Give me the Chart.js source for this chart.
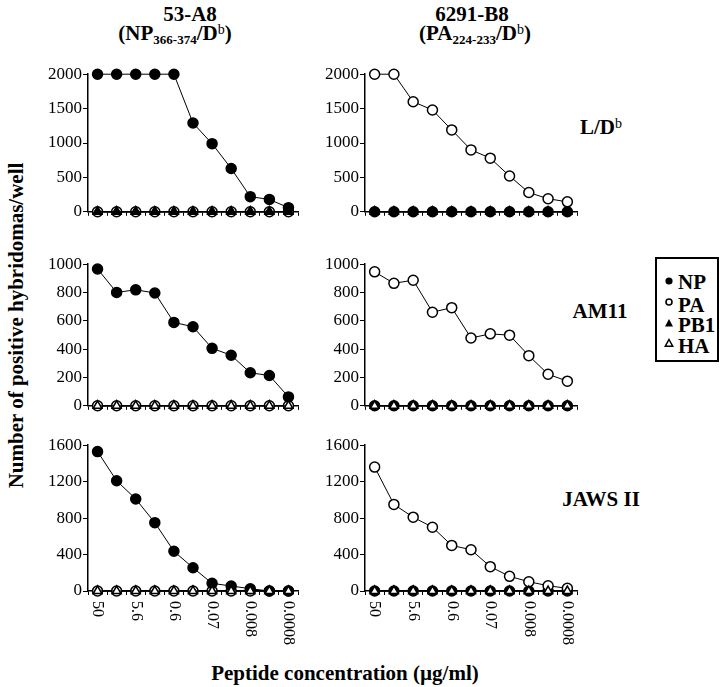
<!DOCTYPE html>
<html>
<head>
<meta charset="utf-8">
<script src="https://cdn.jsdelivr.net/npm/chart.js@4.4.1/dist/chart.umd.min.js"></script>
<style>
  html, body { margin: 0; padding: 0; background: #fff; }
  body { width: 720px; height: 687px; position: relative; overflow: hidden;
         font-family: "Liberation Serif", "Times New Roman", serif; color: #000; }
  canvas { position: absolute; }
  .lbl { position: absolute; font-weight: bold; font-size: 21px; line-height: 21px;
         white-space: nowrap; text-align: center; width: 200px; }
  .lbl sub { font-size: 13px; vertical-align: -4px; line-height: 0; }
  .lbl sup { font-size: 14px; vertical-align: 6px; line-height: 0; font-weight: normal; }
  #legend { position: absolute; left: 655px; top: 257px; width: 60px; height: 101px;
            border: 2px solid #000; }
  .leg { position: absolute; left: 21px; font-weight: bold; font-size: 21px; line-height: 21px; }
  .mk { position: absolute; left: 7px; }
</style>
</head>
<body>

<div class="lbl" style="left:90px; top:4px;">53-A8</div>
<div class="lbl" style="left:75px; top:23px;">(NP<sub>366-374</sub>/D<sup>b</sup>)</div>
<div class="lbl" style="left:372px; top:4px;">6291-B8</div>
<div class="lbl" style="left:375px; top:23px;">(PA<sub>224-233</sub>/D<sup>b</sup>)</div>

<div class="lbl" style="left:501px; top:117px;">L/D<sup>b</sup></div>
<div class="lbl" style="left:500px; top:301px;">AM11</div>
<div class="lbl" style="left:501px; top:489px;">JAWS II</div>

<div class="lbl" style="left:-184px; top:315px; width:400px; transform: rotate(-90deg);">Number of positive hybridomas/well</div>
<div class="lbl" style="left:195px; top:663px; width:300px;">Peptide concentration (µg/ml)</div>

<div id="legend">
  <svg class="mk" style="top:17px" width="10" height="10"><circle cx="5" cy="5" r="3.6" fill="#000"/></svg>
  <div class="leg" style="top:13px;">NP</div>
  <svg class="mk" style="top:38px" width="10" height="10"><circle cx="5" cy="5" r="3" fill="#fff" stroke="#000" stroke-width="1.6"/></svg>
  <div class="leg" style="top:36px;">PA</div>
  <svg class="mk" style="top:59px" width="10" height="10"><polygon points="5,1 9,8.5 1,8.5" fill="#000"/></svg>
  <div class="leg" style="top:56px;">PB1</div>
  <svg class="mk" style="top:79px" width="10" height="10"><polygon points="5,1.5 8.8,8.3 1.2,8.3" fill="#fff" stroke="#000" stroke-width="1.5"/></svg>
  <div class="leg" style="top:77px;">HA</div>
</div>

<canvas id="c1" width="270" height="160" style="left:38px; top:63px;"></canvas>
<canvas id="c2" width="272" height="160" style="left:315px; top:63px;"></canvas>
<canvas id="c3" width="270" height="164" style="left:38px; top:253px;"></canvas>
<canvas id="c4" width="272" height="164" style="left:315px; top:253px;"></canvas>
<canvas id="c5" width="270" height="227" style="left:38px; top:434px;"></canvas>
<canvas id="c6" width="272" height="227" style="left:315px; top:434px;"></canvas>

<script>
// peptide concentrations (ug/ml), only every other dilution is labelled
const xLabels = ['50', '', '5.6', '', '0.6', '', '0.07', '', '0.008', '', '0.0008'];

// y axis ranges per row
const yMax = [2000, 1000, 1600];
const yStep = [500, 200, 400];

const zeros = [0, 0, 0, 0, 0, 0, 0, 0, 0, 0, 0];

// L/Db
const npLD = [2000, 2000, 2000, 2000, 2000, 1290, 990, 630, 220, 180, 60];
const paLD = [2000, 2000, 1600, 1480, 1190, 900, 780, 520, 280, 190, 145];
// AM11
const npAM11 = [966, 801, 819, 797, 589, 558, 406, 357, 233, 214, 63];
const paAM11 = [946, 865, 887, 661, 693, 479, 508, 499, 354, 223, 174];
// JAWS II
const npJAWS = [1530, 1210, 1010, 750, 436, 255, 84, 55, 25, 0, 0];
const paJAWS = [1360, 950, 810, 700, 500, 453, 267, 161, 102, 58, 29];

const markers = {
    NP:  { pointStyle: 'circle',   fill: '#000' },
    PA:  { pointStyle: 'circle',   fill: '#fff' },
    PB1: { pointStyle: 'triangle', fill: '#000' },
    HA:  { pointStyle: 'triangle', fill: '#fff' }
};

// rotated (top-to-bottom) tick labels under the bottom row
const rotatedLabels = {
    id: 'rotatedLabels',
    afterDraw(chart, args, opts) {
        if (!opts.show) return;
        const xs = chart.scales.x;
        const ctx = chart.ctx;
        ctx.save();
        ctx.font = '16px "Liberation Serif"';
        ctx.fillStyle = '#000';
        ctx.textAlign = 'left';
        ctx.textBaseline = 'middle';
        xLabels.forEach((lbl, i) => {
            if (!lbl) return;
            ctx.save();
            ctx.translate(xs.getPixelForTick(i), xs.top + 10);
            ctx.rotate(Math.PI / 2);
            ctx.fillText(lbl, 0, 0);
            ctx.restore();
        });
        ctx.restore();
    }
};

// series listed top-most first (dataset 0 is drawn last)
function makePanel(id, row, series) {
    const bottom = row === 2;
    const datasets = series.map(([name, values]) => ({
        label: name,
        data: values,
        borderColor: '#000',
        borderWidth: 1,
        pointStyle: markers[name].pointStyle,
        pointBackgroundColor: markers[name].fill,
        pointBorderColor: '#000',
        pointBorderWidth: 1.5,
        pointRadius: 5,
        pointHoverRadius: 5,
        tension: 0,
        fill: false,
        clip: false
    }));

    new Chart(document.getElementById(id), {
        type: 'line',
        data: { labels: xLabels, datasets },
        plugins: [rotatedLabels],
        options: {
            responsive: false,
            animation: false,
            devicePixelRatio: 1,
            events: [],
            layout: { autoPadding: false, padding: { top: 10, right: 10, left: 0, bottom: 0 } },
            plugins: {
                legend: { display: false },
                tooltip: { enabled: false },
                rotatedLabels: { show: bottom }
            },
            scales: {
                x: {
                    type: 'category',
                    offset: true,
                    ticks: { display: false },
                    grid: { offset: true, drawOnChartArea: false, tickLength: 4, color: '#000', lineWidth: 1 },
                    border: { color: '#000', width: 1.5 },
                    afterFit: s => { s.height = bottom ? 70 : 6; }
                },
                y: {
                    min: 0,
                    max: yMax[row],
                    ticks: { stepSize: yStep[row], color: '#000', padding: 1,
                             font: { family: 'Liberation Serif', size: 17 },
                             callback: v => String(v) },
                    grid: { drawOnChartArea: false, tickLength: 5, color: '#000', lineWidth: 1 },
                    border: { color: '#000', width: 1.5 },
                    afterFit: s => { s.width = 50; }
                }
            }
        }
    });
}

makePanel('c1', 0, [['PB1', zeros], ['NP', npLD], ['HA', zeros], ['PA', zeros]]);
makePanel('c2', 0, [['NP', zeros], ['PA', paLD], ['PB1', zeros], ['HA', zeros]]);
makePanel('c3', 1, [['HA', zeros], ['NP', npAM11], ['PA', zeros], ['PB1', zeros]]);
makePanel('c4', 1, [['HA', zeros], ['PA', paAM11], ['NP', zeros], ['PB1', zeros]]);
makePanel('c5', 2, [['HA', zeros], ['NP', npJAWS], ['PA', zeros], ['PB1', zeros]]);
makePanel('c6', 2, [['HA', zeros], ['PA', paJAWS], ['NP', zeros], ['PB1', zeros]]);
</script>
</body>
</html>
